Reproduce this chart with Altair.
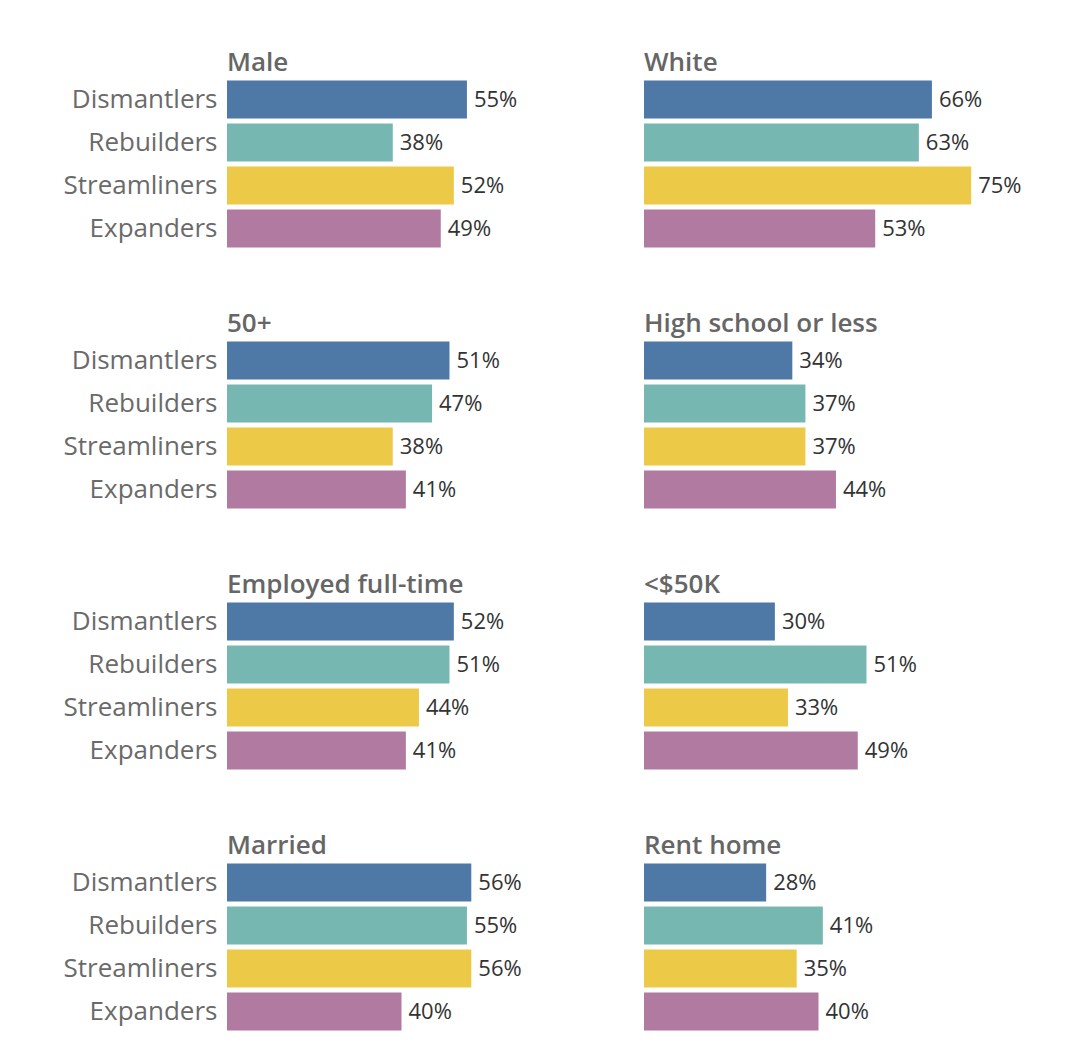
import altair as alt
import pandas as pd

groups = ["Dismantlers", "Rebuilders", "Streamliners", "Expanders"]
colors = ["#4e79a7", "#76b7b2", "#edc948", "#b07aa1"]

panel_titles = ["Male", "White", "50+", "High school or less",
                "Employed full-time", "<$50K", "Married", "Rent home"]
male = [55, 38, 52, 49]
white = [66, 63, 75, 53]
age50 = [51, 47, 38, 41]
high_school = [34, 37, 37, 44]
employed = [52, 51, 44, 41]
under50k = [30, 51, 33, 49]
married = [56, 55, 56, 40]
rent_home = [28, 41, 35, 40]
panel_values = [male, white, age50, high_school, employed, under50k, married, rent_home]

FONT = "Open Sans"


def panel(title, values, show_axis):
    df = pd.DataFrame({
        "group": groups,
        "value": values,
        "label": [f"{v}%" for v in values],
    })
    y_axis = alt.Axis(domain=False, ticks=False, labelFontSize=26, labelColor="#6a6a6a",
                      labelFont=FONT, labelPadding=10, title=None) if show_axis else None
    y = alt.Y("group:N", sort=groups, title=None,
              scale=alt.Scale(paddingInner=0.12, paddingOuter=0.06), axis=y_axis)
    x = alt.X("value:Q", scale=alt.Scale(domain=[0, 80]), axis=None)
    bars = alt.Chart(df).mark_bar().encode(
        x=x, y=y,
        color=alt.Color("group:N", scale=alt.Scale(domain=groups, range=colors), legend=None),
    )
    text = alt.Chart(df).mark_text(align="left", baseline="middle", dx=7, fontSize=22,
                                   font=FONT, color="#333333").encode(
        x=x, y=y, text="label:N")
    return alt.layer(bars, text).properties(
        width=349, height=172,
        title=alt.TitleParams(title, anchor="start", frame="group", fontSize=26,
                              font=FONT, fontWeight=600, color="#666666", offset=2),
    )


rows = []
for i in range(0, 8, 2):
    rows.append(alt.hconcat(
        panel(panel_titles[i], panel_values[i], True),
        panel(panel_titles[i + 1], panel_values[i + 1], False),
        spacing=68,
    ))

chart = alt.vconcat(*rows, spacing=61).properties(
    padding={"left": 55, "top": 42, "right": 5, "bottom": 5}
).configure(
    background="white",
    view=alt.ViewConfig(strokeWidth=0, stroke="transparent"),
)

chart.save("out.html", embed_options={"renderer": "svg", "actions": False})
